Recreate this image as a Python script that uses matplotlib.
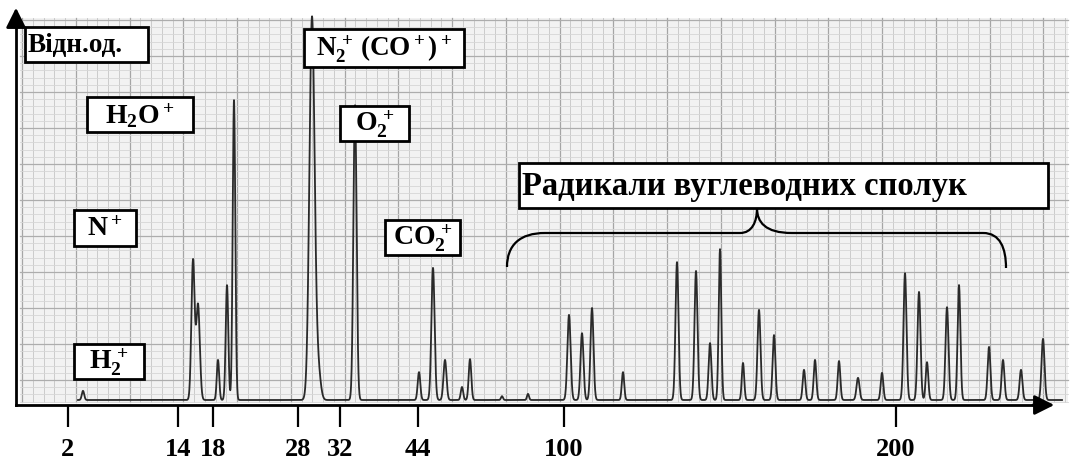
import numpy as np
import matplotlib
matplotlib.use("Agg")
import matplotlib.pyplot as plt
from matplotlib.patches import Rectangle, PathPatch
from matplotlib.path import Path

plt.rcParams['font.family'] = ['Liberation Serif', 'DejaVu Serif']
plt.rcParams['font.weight'] = 'bold'
plt.rcParams['mathtext.fontset'] = 'custom'
plt.rcParams['mathtext.rm'] = 'Liberation Serif:bold'
plt.rcParams['mathtext.it'] = 'Liberation Serif:bold'
plt.rcParams['mathtext.bf'] = 'Liberation Serif:bold'

# ---- data: chart (scan) position of each tick and its m/z label ----
tick_pos = [68, 178, 213, 298, 340, 418, 564, 896]
tick_labels = ['2', '14', '18', '28', '32', '44', '100', '200']

# ---- peaks: scan position, relative intensity (0..100 = full frame), width ----
peak_pos = [83, 193, 198, 218, 227, 234, 312, 318, 355,
            419, 433, 445, 462, 470, 502, 528,
            569, 582, 592, 623, 677, 696, 710, 720,
            743, 759, 774, 804, 815, 839, 858, 882,
            905, 919, 927, 947, 959, 989, 1003, 1021, 1043]
peak_height = [2.4, 36.4, 25.0, 10.5, 30.1, 78.5, 100.0, 8.0, 77.2,
               7.3, 34.6, 10.5, 3.4, 10.7, 1.0, 1.6,
               22.3, 17.5, 24.1, 7.3, 36.1, 33.8, 14.9, 39.5,
               9.7, 23.6, 17.0, 7.9, 10.5, 10.2, 5.8, 7.1,
               33.2, 28.3, 9.9, 24.3, 30.1, 13.9, 10.5, 7.9, 16.0]
peak_width = [1.2, 1.6, 1.8, 1.2, 1.3, 1.3, 2.6, 2.5, 1.6,
              1.3, 1.6, 1.5, 1.2, 1.3, 1.0, 1.0,
              1.6, 1.5, 1.5, 1.2, 1.5, 1.5, 1.4, 1.3,
              1.2, 1.5, 1.4, 1.3, 1.3, 1.3, 1.5, 1.3,
              1.5, 1.5, 1.3, 1.5, 1.4, 1.4, 1.4, 1.4, 1.5]

W, H = 1071, 468
fig = plt.figure(figsize=(W / 100, H / 100), dpi=100)

# background decoration axes (pixel coordinates)
bg = fig.add_axes([0, 0, 1, 1])
bg.set_xlim(0, W)
bg.set_ylim(H, 0)
bg.axis('off')
bg.add_patch(Rectangle((20, 18), 1048, 384, facecolor='#f2f2f2', edgecolor='none', zorder=0))
for i, gx in enumerate(np.arange(22, 1068, 10.75)):
    bg.plot([gx, gx], [18, 402], color='#a5a5a5' if i % 5 == 0 else '#cbcbcb',
            lw=0.9 if i % 5 == 0 else 0.7, zorder=1)
for i, gy in enumerate(np.arange(20, 402, 7.2)):
    bg.plot([20, 1068], [gy, gy], color='#adadad' if i % 5 == 0 else '#d6d6d6',
            lw=0.9 if i % 5 == 0 else 0.6, zorder=1)

# data axes: scan position vs relative intensity
ax = fig.add_axes([0, 0, 1, 1])
ax.patch.set_alpha(0)
px_per_unit = 3.82
ax.set_xlim(0, W)
ax.set_ylim(-(H - 400) / px_per_unit, 400 / px_per_unit)

x = np.linspace(78, 1062, 6000)
y = np.zeros_like(x)
for p, h, w in zip(peak_pos, peak_height, peak_width):
    y += h * np.exp(-0.5 * ((x - p) / w) ** 2)
ax.plot(x, y, color='#2a2a2a', lw=1.3, zorder=3)

for s in ['top', 'right']:
    ax.spines[s].set_visible(False)
ax.spines['bottom'].set_position(('data', -1.3))
ax.spines['bottom'].set_bounds(16, 1045)
ax.spines['bottom'].set_linewidth(2)
ax.spines['left'].set_position(('data', 16))
ax.spines['left'].set_bounds(-1.3, 100)
ax.spines['left'].set_linewidth(2)
ax.set_yticks([])
ax.set_xticks(tick_pos, tick_labels)
ax.tick_params(axis='x', direction='out', length=16, width=1.6, pad=8,
               labelsize=19)
for lab in ax.get_xticklabels():
    lab.set_fontweight('bold')

# overlay axes for arrows, boxes, brace (pixel coordinates)
ov = fig.add_axes([0, 0, 1, 1])
ov.set_xlim(0, W)
ov.set_ylim(H, 0)
ov.axis('off')
ov.patch.set_alpha(0)
ov.annotate('', xy=(1057, 405), xytext=(1030, 405),
            arrowprops=dict(arrowstyle='-|>', color='k', lw=2, mutation_scale=30))
ov.annotate('', xy=(16, 5), xytext=(16, 30),
            arrowprops=dict(arrowstyle='-|>', color='k', lw=2, mutation_scale=30))

boxes = [
    (25, 27, 148, 62, 'Відн.од.', 19.5, 'left'),
    (87, 97, 193, 132, r'$\mathrm{H_2O^+}$', 20, 'center'),
    (74, 210, 136, 246, r'$\mathrm{N^+}$', 20, 'center'),
    (74, 344, 144, 379, r'$\mathrm{H_2^{\,+}}$', 20, 'center'),
    (304, 29, 464, 67, r'$\mathrm{N_2^{\,+}\,(CO^+)^+}$', 19.5, 'center'),
    (340, 106, 409, 141, r'$\mathrm{O_2^{\,+}}$', 20, 'center'),
    (385, 220, 460, 255, r'$\mathrm{CO_2^{\,+}}$', 20, 'center'),
    (519, 163, 1048, 208, 'Радикали вуглеводних сполук', 23.5, 'left'),
]
for x0, y0, x1, y1, txt, fs, ha in boxes:
    ov.add_patch(Rectangle((x0, y0), x1 - x0, y1 - y0, facecolor='white',
                           edgecolor='black', lw=2, zorder=5))
    tx = x0 + 3 if ha == 'left' else (x0 + x1) / 2
    ov.text(tx, (y0 + y1) / 2 + 1, txt, ha=ha, va='center', fontsize=fs,
            fontweight='bold', color='black', zorder=6)

verts = [(507, 267), (507, 245), (520, 233), (545, 233),
         (740, 233),
         (752, 233), (757, 222), (757, 208),
         (757, 222), (765, 233), (792, 233),
         (983, 233),
         (1000, 233), (1006, 248), (1006, 268)]
codes = [Path.MOVETO, Path.CURVE4, Path.CURVE4, Path.CURVE4,
         Path.LINETO,
         Path.CURVE4, Path.CURVE4, Path.CURVE4,
         Path.CURVE4, Path.CURVE4, Path.CURVE4,
         Path.LINETO,
         Path.CURVE4, Path.CURVE4, Path.CURVE4]
ov.add_patch(PathPatch(Path(verts, codes), facecolor='none', edgecolor='black',
                       lw=1.6, zorder=5))

fig.savefig('out.png', dpi=100)
